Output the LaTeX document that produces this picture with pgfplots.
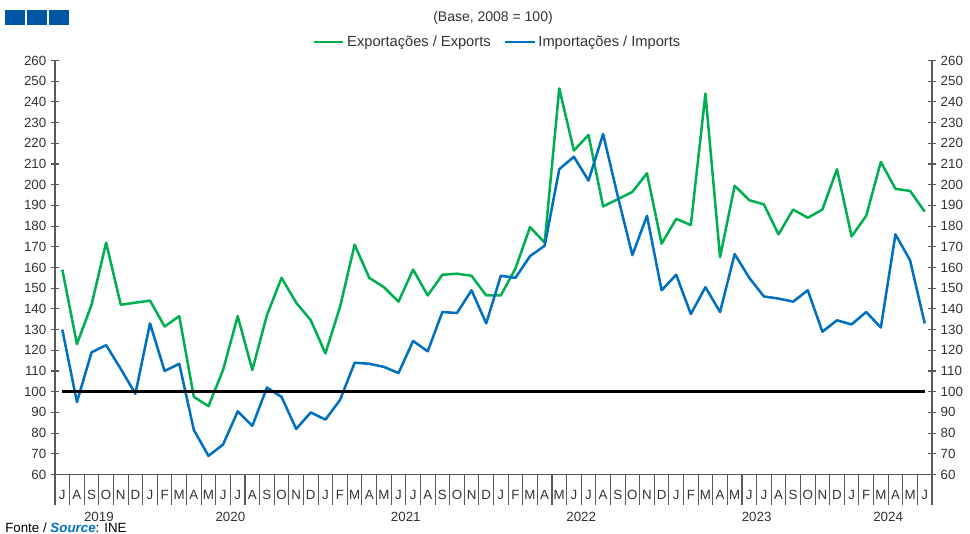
\documentclass[border=0pt]{standalone}
\usepackage{pgfplots}
\pgfplotsset{compat=1.18}
\usepackage{fontspec}
\setmainfont{Liberation Sans}
\definecolor{expgreen}{HTML}{00B050}
\definecolor{impblue}{HTML}{0070C0}
\definecolor{sqblue}{HTML}{0056A4}
\definecolor{axgray}{HTML}{595959}
\definecolor{txt}{HTML}{333333}
\pgfplotstableread{
i exp imp
0 159 130
1 123 95
2 142 119
3 172 122.5
4 142 111
5 143 99
6 144 133
7 131.5 110
8 136.5 113.5
9 97.5 81.5
10 93 69
11 110.5 74.5
12 136.5 90.5
13 110.5 83.5
14 137 102
15 155 97.5
16 143 82
17 134.5 90
18 118.5 86.5
19 141 96
20 171 114
21 155 113.5
22 150.5 112
23 143.5 109
24 159 124.5
25 146.5 119.5
26 156.5 138.5
27 157 138
28 156 149
29 146.5 133
30 146.5 156
31 159.5 155
32 179.5 165.5
33 172 170.5
34 246.5 207.5
35 216.5 213.5
36 224 202
37 189.5 224.5
38 193 194.5
39 196.5 166
40 205.5 185
41 171.5 149
42 183.5 156.5
43 180.5 137.5
44 244 150.5
45 165 138.5
46 199.5 166.5
47 192.5 155
48 190.5 146
49 176 145
50 188 143.5
51 184 149
52 188 129
53 207.5 134.5
54 175 132.5
55 185 138.5
56 211 131
57 198 176
58 197 163.5
59 187 133
}\datatable
\begin{document}
\begin{tikzpicture}
\path[use as bounding box] (0,0) rectangle (727.5pt,399.75pt);
% header squares
\fill[sqblue] (3.75pt,381pt) rectangle (18.75pt,392.25pt);
\fill[sqblue] (20.25pt,381pt) rectangle (35.25pt,392.25pt);
\fill[sqblue] (36.75pt,381pt) rectangle (51.75pt,392.25pt);
\node[font=\fontsize{10.5pt}{12pt}\selectfont, text=txt, anchor=center] at (369.75pt,386.25pt) {(Base, 2008 = 100)};
\node[font=\fontsize{10pt}{12pt}\selectfont, text=black, anchor=base west, inner sep=0pt] at (3.75pt,0.2pt) {Fonte / {\color{impblue}\bfseries\itshape Source}: INE};
\begin{axis}[
  scale only axis,
  width=657.75pt, height=310.5pt,
  at={(41.25pt,43.875pt)}, anchor=south west,
  xmin=-0.5, xmax=59.5, ymin=60, ymax=260,
  axis y line*=left, axis x line*=bottom,
  axis line style={axgray, line width=0.8pt},
  ytick={60,70,...,260},
  yticklabel style={font=\fontsize{10pt}{12pt}\selectfont, text=txt},
  tick align=center,
  major tick length=6pt,
  tick style={axgray, line width=0.8pt},
  xtick={0,...,59},
  xticklabels={J,A,S,O,N,D,J,F,M,A,M,J,J,A,S,O,N,D,J,F,M,A,M,J,J,A,S,O,N,D,J,F,M,A,M,J,J,A,S,O,N,D,J,F,M,A,M,J,J,A,S,O,N,D,J,F,M,A,M,J},
  x tick style={draw=none},
  xticklabel style={font=\fontsize{10pt}{12pt}\selectfont, text=txt, anchor=base, yshift=-15.5pt},
  minor xtick={-0.5,0.5,...,59.5},
  minor x tick style={draw=axgray, line width=0.8pt, yshift=-11.25pt},
  minor tick length=22.5pt,
  extra x ticks={-0.5,5.5,17.5,29.5,41.5,53.5,59.5},
  extra x tick labels={},
  extra x tick style={major tick length=38pt, tick style={draw=axgray, line width=0.8pt, yshift=-19pt}},
  /pgf/number format/assume math mode=true,
  clip=false,
  legend style={at={(0.505,1.045)}, anchor=center, draw=none, fill=none,
    legend columns=2, font=\fontsize{11pt}{13pt}\selectfont, text=txt,
    /tikz/every even column/.append style={column sep=8pt}, inner sep=0pt},
  legend image code/.code={\draw[#1, line width=1.8pt] (0pt,0pt) -- (22pt,0pt);},
]
\addplot[expgreen, line width=1.9pt, line join=round] table[x=i, y=exp] {\datatable};
\addlegendentry{Exportações / Exports}
\addplot[impblue, line width=1.9pt, line join=round] table[x=i, y=imp] {\datatable};
\addlegendentry{Importações / Imports}
\addplot[black, line width=2pt, forget plot] coordinates {(0,100) (59,100)};
\node[font=\fontsize{10pt}{12pt}\selectfont, text=txt, anchor=base] at (axis cs:2.5,60) [yshift=-35.5pt] {2019};
\node[font=\fontsize{10pt}{12pt}\selectfont, text=txt, anchor=base] at (axis cs:11.5,60) [yshift=-35.5pt] {2020};
\node[font=\fontsize{10pt}{12pt}\selectfont, text=txt, anchor=base] at (axis cs:23.5,60) [yshift=-35.5pt] {2021};
\node[font=\fontsize{10pt}{12pt}\selectfont, text=txt, anchor=base] at (axis cs:35.5,60) [yshift=-35.5pt] {2022};
\node[font=\fontsize{10pt}{12pt}\selectfont, text=txt, anchor=base] at (axis cs:47.5,60) [yshift=-35.5pt] {2023};
\node[font=\fontsize{10pt}{12pt}\selectfont, text=txt, anchor=base] at (axis cs:56.5,60) [yshift=-35.5pt] {2024};
\end{axis}
\begin{axis}[
  scale only axis,
  width=657.75pt, height=310.5pt,
  at={(41.25pt,43.875pt)}, anchor=south west,
  xmin=-0.5, xmax=59.5, ymin=60, ymax=260,
  axis y line*=right, axis x line=none,
  axis line style={axgray, line width=0.8pt},
  ytick={60,70,...,260},
  yticklabel style={font=\fontsize{10pt}{12pt}\selectfont, text=txt},
  tick align=center, major tick length=6pt,
  tick style={axgray, line width=0.8pt},
  /pgf/number format/assume math mode=true,
]
\addplot[draw=none] coordinates {(0,100)};
\end{axis}
\end{tikzpicture}
\end{document}
